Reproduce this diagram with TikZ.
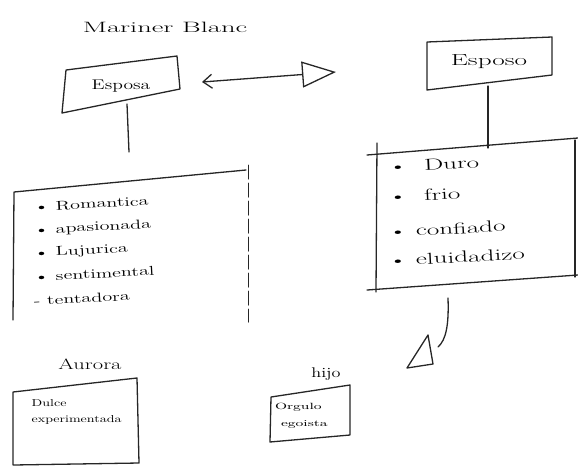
\documentclass[tikz,border=0pt]{standalone}
\usetikzlibrary{arrows.meta}
\newcommand\hfnt[1]{\fontsize{#1}{#1}\selectfont}
\begin{document}
\begin{tikzpicture}[x=1pt,y=-1pt,
  ink/.style={draw=black!85,line width=1.3pt,line join=round,line cap=round},
  hand/.style={inner sep=1pt},
  item/.style={hand,anchor=west,rotate=3,xscale=1.55,font=\hfnt{13}},
  ritem/.style={hand,anchor=west,rotate=3,xscale=1.7,font=\hfnt{16}},
  small/.style={hand,anchor=west,xscale=1.4,font=\hfnt{10}}]
\useasboundingbox (0,0) rectangle (578,467);
% title
\node[hand,xscale=1.9,font=\hfnt{15}] (mb) at (165,27) {Mariner Blanc};
% Esposa box
\coordinate (e1) at (66,70); \coordinate (e2) at (177,56);
\coordinate (e3) at (180,89); \coordinate (e4) at (62,113);
\draw[ink] (e1) -- (e2) -- (e3) -- (e4) -- cycle;
\node[hand,xscale=1.4,font=\hfnt{14}] (esposa) at (121,86) {Esposa};
\coordinate (ea) at (127,104); \coordinate (eb) at (129,152);
\draw[ink] (ea) -- (eb);
% association arrow
\coordinate (al) at (202,82); \coordinate (ar) at (336,72);
\draw[ink,{Straight Barb[length=9pt,width=14pt]}-{Triangle[open,length=34pt,width=26pt]}] (al) -- (ar);
% Esposo box
\coordinate (o1) at (427,42); \coordinate (o2) at (552,37);
\coordinate (o3) at (552,75); \coordinate (o4) at (427,90);
\draw[ink] (o1) -- (o2) -- (o3) -- (o4) -- cycle;
\node[hand,xscale=1.7,font=\hfnt{16}] (esposo) at (489,62) {Esposo};
\coordinate (oa) at (488,86); \coordinate (ob) at (488,148);
\draw[ink] (oa) -- (ob);
% left list box (open at bottom)
\coordinate (l1) at (13,320); \coordinate (l2) at (14,192);
\coordinate (l3) at (246,170); \coordinate (l4) at (248,165);
\coordinate (l5) at (248,322);
\draw[ink] (l1) -- (l2) -- (l3);
\draw[ink,line width=1pt,dash pattern=on 14pt off 4pt] (l4) -- (l5);
\node[item] (li1) at (32,207) {\textbullet\ Romantica};
\node[item] (li2) at (32,231) {\textbullet\ apasionada};
\node[item] (li3) at (32,254) {\textbullet\ Lujurica};
\node[item] (li4) at (32,277) {\textbullet\ sentimental};
\node[item] (li5) at (32,301) {- tentadora};
% right list box
\coordinate (r1) at (367,155); \coordinate (r2) at (578,138);
\coordinate (r3) at (367,290); \coordinate (r4) at (578,275);
\coordinate (r5) at (377,143); \coordinate (r6) at (376,292);
\coordinate (r7) at (575,140); \coordinate (r8) at (575,277);
\draw[ink] (r1) -- (r2);
\draw[ink] (r3) -- (r4);
\draw[ink] (r5) -- (r6);
\draw[ink] (r7) -- (r8);
\node[ritem] (ri1) at (386,167) {\textbullet\ \ Duro};
\node[ritem] (ri2) at (386,197) {\textbullet\ \ frio};
\node[ritem] (ri3) at (386,232) {\textbullet\ confiado};
\node[ritem] (ri4) at (386,261) {\textbullet\ eluidadizo};
% generalisation stub
\coordinate (g1) at (448,298); \coordinate (g2) at (438,347);
\draw[ink] (g1) .. controls (449,325) and (446,340) .. (g2);
\coordinate (t1) at (407,368); \coordinate (t2) at (428,335); \coordinate (t3) at (433,364);
\draw[ink] (t1) -- (t2) -- (t3) -- cycle;
% Aurora
\node[hand,xscale=1.5,font=\hfnt{15}] (aurora) at (90,364) {Aurora};
\coordinate (a1) at (13,392); \coordinate (a2) at (137,378);
\coordinate (a3) at (139,463); \coordinate (a4) at (13,465);
\draw[ink] (a4) -- (a1) -- (a2) -- (a3) -- (a4);
\node[small] (au1) at (30,403) {Dulce};
\node[small] (au2) at (30,420) {experimentada};
% hijo
\node[hand,xscale=1.3,font=\hfnt{14}] (hijo) at (326,374) {hijo};
\coordinate (h1) at (271,397); \coordinate (h2) at (350,385);
\coordinate (h3) at (350,435); \coordinate (h4) at (270,442);
\draw[ink] (h1) -- (h2) -- (h3) -- (h4) -- cycle;
\node[small,xscale=1.2,font=\hfnt{9}] (hi1) at (273,407) {Orgulo};
\node[small,xscale=1.2,font=\hfnt{9}] (hi2) at (279,424) {egoista};
\end{tikzpicture}
\end{document}
